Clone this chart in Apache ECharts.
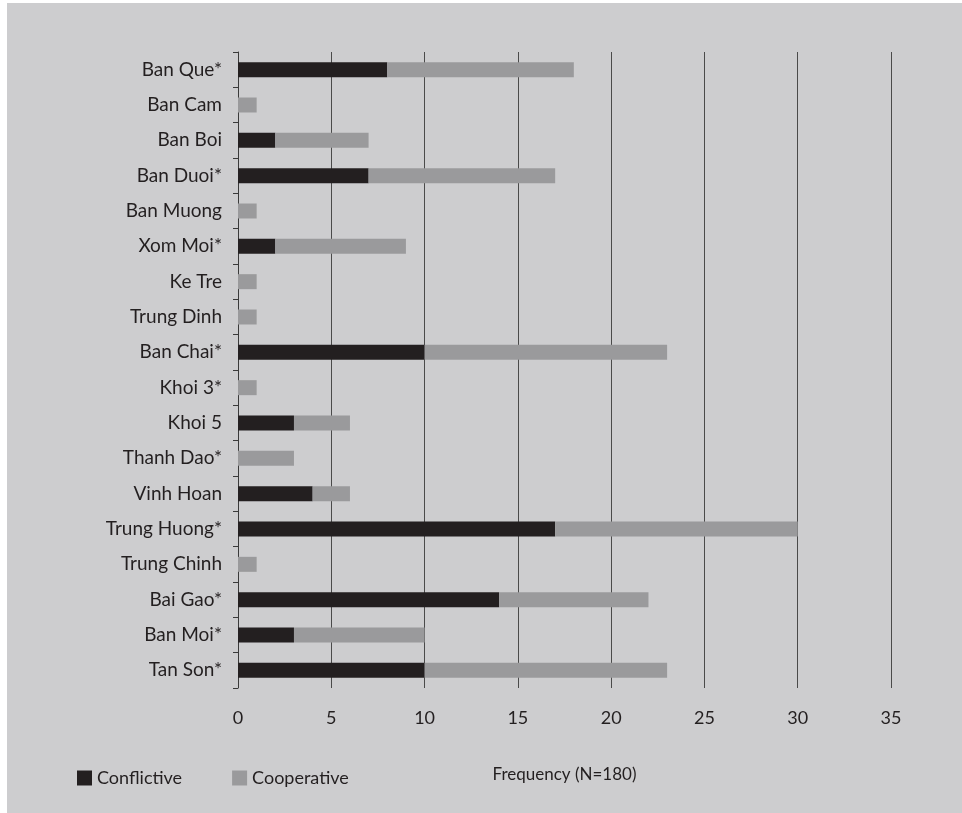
<!DOCTYPE html>
<html>
<head>
<meta charset="utf-8">
<script src="https://cdn.jsdelivr.net/npm/echarts@6/dist/echarts.min.js"></script>
<style>
html,body{margin:0;padding:0;background:#ffffff;width:962px;height:813px;overflow:hidden;}
#chart{position:absolute;left:7px;top:3px;width:955px;height:810px;background:#cdcdcf;}
</style>
</head>
<body>
<div id="chart"></div>
<script>
const categories = ["Ban Que*","Ban Cam","Ban Boi","Ban Duoi*","Ban Muong","Xom Moi*","Ke Tre","Trung Dinh","Ban Chai*","Khoi 3*","Khoi 5","Thanh Dao*","Vinh Hoan","Trung Huong*","Trung Chinh","Bai Gao*","Ban Moi*","Tan Son*"];
const conflictive = [8,0,2,7,0,2,0,0,10,0,3,0,4,17,0,14,3,10];
const cooperative = [10,1,5,10,1,7,1,1,13,1,3,3,2,13,1,8,7,13];
const xTicks = {min:0, max:35, interval:5};
const axisName = "Frequency (N=180)";

const chart = echarts.init(document.getElementById('chart'));
const font = 'Lato, "Open Sans", sans-serif';
chart.setOption({
  backgroundColor: '#cdcdcf',
  animation: false,
  grid: {left: 231, top: 49, width: 653, height: 636},
  legend: {
    left: 70, top: 766, padding: 0,
    itemWidth: 15, itemHeight: 15, itemGap: 50,
    icon: 'rect',
    textStyle: {fontFamily: font, fontSize: 18, color: '#231f20'},
    data: ['Conflictive','Cooperative']
  },
  xAxis: {
    type: 'value', min: xTicks.min, max: xTicks.max, interval: xTicks.interval,
    name: axisName, nameLocation: 'middle', nameGap: 78,
    nameTextStyle: {fontFamily: font, fontSize: 17, color: '#231f20'},
    axisLine: {show: false}, axisTick: {show: false},
    axisLabel: {margin: 21, fontFamily: font, fontSize: 18, color: '#231f20'},
    splitLine: {show: true, lineStyle: {color: '#4a4a4a', width: 1}}
  },
  yAxis: {
    type: 'category', data: categories, inverse: true,
    axisLine: {show: true, lineStyle: {color: '#3a3a3a', width: 1}},
    axisTick: {show: true, length: 5, alignWithLabel: false, lineStyle: {color: '#3a3a3a'}},
    axisLabel: {margin: 16, fontFamily: font, fontSize: 19, color: '#231f20'}
  },
  series: [
    {name: 'Conflictive', type: 'bar', stack: 't', data: conflictive, barWidth: 15,
     itemStyle: {color: '#231f20'}},
    {name: 'Cooperative', type: 'bar', stack: 't', data: cooperative, barWidth: 15,
     itemStyle: {color: '#9a9a9c'}}
  ]
});
</script>
</body>
</html>
